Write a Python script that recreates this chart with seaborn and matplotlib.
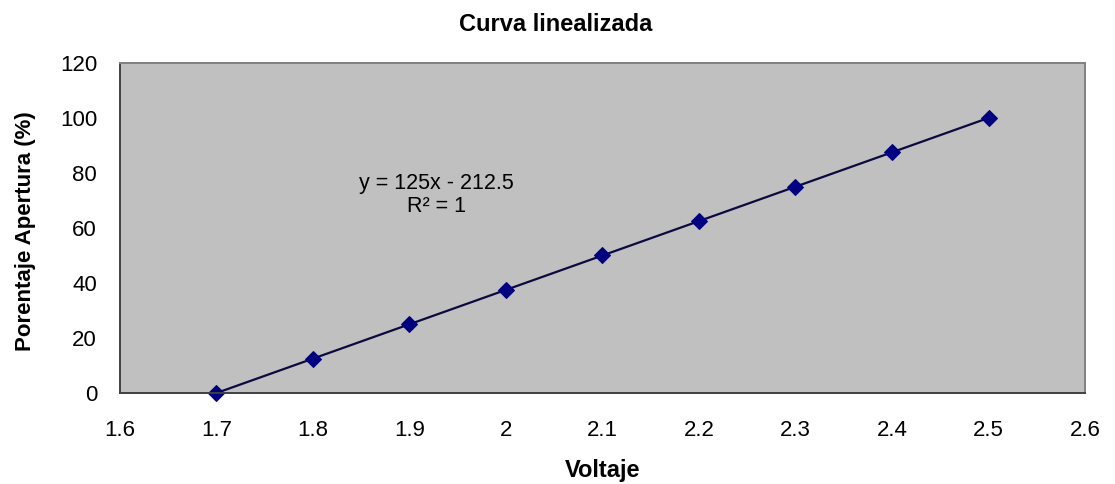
import matplotlib
matplotlib.use("Agg")
import matplotlib.pyplot as plt
import seaborn as sns
import pandas as pd

voltaje = [1.7, 1.8, 1.9, 2.0, 2.1, 2.2, 2.3, 2.4, 2.5]
apertura = [0, 12.5, 25, 37.5, 50, 62.5, 75, 87.5, 100]
x_ticks = [1.6, 1.7, 1.8, 1.9, 2.0, 2.1, 2.2, 2.3, 2.4, 2.5, 2.6]
x_tick_labels = ["1.6", "1.7", "1.8", "1.9", "2", "2.1", "2.2", "2.3", "2.4", "2.5", "2.6"]
y_ticks = [0, 20, 40, 60, 80, 100, 120]

sns.set_theme(style="white")
plt.rcParams['font.family'] = ['Liberation Sans', 'DejaVu Sans']
plt.rcParams['text.color'] = 'black'
plt.rcParams['axes.labelcolor'] = 'black'

df = pd.DataFrame({"Voltaje": voltaje, "Apertura": apertura})

fig = plt.figure(figsize=(11.15, 4.84), dpi=100)
ax = fig.add_axes([0.1076, 0.188, 0.8655, 0.682])
ax.set_facecolor("#C0C0C0")

sns.lineplot(data=df, x="Voltaje", y="Apertura", ax=ax, color="#000080",
             linewidth=1.6, marker="D", markersize=8, markeredgecolor="#000080")
ax.lines[0].set_color("#0A0A40")
ax.lines[0].set_markerfacecolor("#000080")
ax.lines[0].set_markeredgecolor("#000080")
ax.lines[0].set_clip_on(False)

ax.set_xlim(1.6, 2.6)
ax.set_ylim(0, 120)
ax.set_xticks(x_ticks)
ax.set_xticklabels(x_tick_labels)
ax.set_yticks(y_ticks)
ax.tick_params(axis="both", labelsize=16, length=0, colors="black")
ax.tick_params(axis="x", pad=19.5)
ax.tick_params(axis="y", pad=16.5)

for side in ("left", "bottom"):
    ax.spines[side].set_color("#404040")
    ax.spines[side].set_linewidth(1.4)
for side in ("top", "right"):
    ax.spines[side].set_color("#808080")
    ax.spines[side].set_linewidth(1.4)

ax.set_xlabel("Voltaje", fontsize=17, fontweight="bold", color="black")
ax.xaxis.set_label_coords(0.5, -0.236)
ax.xaxis.label.set_va("center")
ax.set_ylabel("Porentaje Apertura (%)", fontsize=16, fontweight="bold", color="black")
ax.yaxis.set_label_coords(-0.0974, 0.49)
ax.yaxis.label.set_va("center")

fig.text(0.498, 0.950, "Curva linealizada", fontsize=17, fontweight="bold",
         ha="center", va="center", color="black")

ax.text(1.928, 72, "y = 125x - 212.5\nR² = 1", ha="center", va="center",
        fontsize=15.5, linespacing=1.07, color="black")

fig.savefig("out.png", dpi=100, facecolor="white")
